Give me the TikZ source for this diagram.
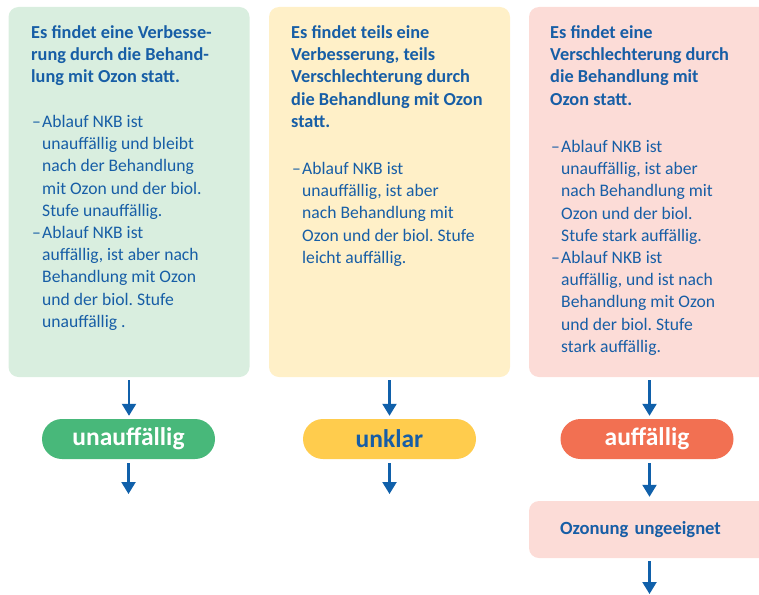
\documentclass[tikz,border=0pt]{standalone}
\usepackage{fontspec}
\setmainfont{Carlito}
\frenchspacing
\usetikzlibrary{arrows.meta}
\definecolor{textblau}{RGB}{23,94,166}
\definecolor{pfeilblau}{RGB}{16,96,170}
\definecolor{gruenhell}{RGB}{217,238,223}
\definecolor{gelbhell}{RGB}{255,240,200}
\definecolor{rothell}{RGB}{252,220,215}
\definecolor{gruen}{RGB}{72,184,122}
\definecolor{gelb}{RGB}{255,204,77}
\definecolor{rot}{RGB}{242,112,82}
\newcommand{\strich}{\makebox[10pt][l]{–}}
\newcommand{\einr}{\hspace*{10pt}}
\begin{document}
\begin{tikzpicture}[x=1pt,y=-1pt,
    kasten/.style={rounded corners=10pt,minimum width=241pt,minimum height=370pt,inner sep=0pt},
    kopf/.style={anchor=north west,inner sep=0pt,align=left,text=textblau,font=\fontsize{18.3}{22.2}\selectfont\bfseries},
    rumpf/.style={anchor=north west,inner sep=0pt,align=left,text=textblau,font=\fontsize{17.6}{22.2}\selectfont},
    pille/.style={rounded corners=20pt,minimum width=173pt,minimum height=40pt,inner sep=0pt,font=\fontsize{25.5}{28}\selectfont\bfseries},
    pfeil/.style={pfeilblau,line width=2.2pt,-{Triangle[width=14pt,length=12pt]},shorten <=3pt,shorten >=3pt}]
        \useasboundingbox (0,0) rectangle (759,594);
        \node[kasten,fill=gruenhell] (gut) at (129,192) {};
        \node[kasten,fill=gelbhell] (teils) at (389.5,192) {};
        \node[kasten,fill=rothell] (schlecht) at (649.5,192) {};
        \node[kopf] (gutkopf) at (31,25.5) {Es findet eine Verbesse-\\rung durch die Behand-\\lung mit Ozon statt.};
        \node[rumpf] (gutrumpf) at (32,115) {\strich Ablauf NKB ist\\\einr unauffällig und bleibt\\\einr nach der Behandlung\\\einr mit Ozon und der biol.\\\einr Stufe unauffällig.\\\strich Ablauf NKB ist\\\einr auffällig, ist aber nach\\\einr Behandlung mit Ozon\\\einr und der biol. Stufe\\\einr unauffällig .};
        \node[kopf] (teilskopf) at (291,25.5) {Es findet teils eine\\Verbesserung, teils\\Verschlechterung durch\\die Behandlung mit Ozon\\statt.};
        \node[rumpf] (teilsrumpf) at (292,162) {\strich Ablauf NKB ist\\\einr unauffällig, ist aber\\\einr nach Behandlung mit\\\einr Ozon und der biol. Stufe\\\einr leicht auffällig.};
        \node[kopf] (schlechtkopf) at (550,25.5) {Es findet eine\\Verschlechterung durch\\die Behandlung mit\\Ozon statt.};
        \node[rumpf] (schlechtrumpf) at (551,140) {\strich Ablauf NKB ist\\\einr unauffällig, ist aber\\\einr nach Behandlung mit\\\einr Ozon und der biol.\\\einr Stufe stark auffällig.\\\strich Ablauf NKB ist\\\einr auffällig, und ist nach\\\einr Behandlung mit Ozon\\\einr und der biol. Stufe\\\einr stark auffällig.};
        \node[pille,fill=gruen,text=white] (unauff) at (128.5,439) {unauffällig};
        \node[pille,fill=gelb,text=textblau] (unklar) at (389.5,439) {unklar};
        \node[pille,fill=rot,text=white] (auff) at (647,439) {auffällig};
        \node[rounded corners=10pt,fill=rothell,minimum width=241pt,minimum height=57pt,text width=179pt,inner xsep=31pt,inner ysep=0pt,align=left,text=textblau,font=\fontsize{18.6}{22.2}\selectfont\bfseries] (ozon) at (649.5,529.5) {Ozonung ungeeignet};
        \coordinate (gutende) at (128.5,497);
        \coordinate (teilsende) at (389.5,497);
        \coordinate (ozonende) at (649.5,597);
        \draw[pfeil] (gut.south) -- (gut.south |- unauff.north);
        \draw[pfeil] (teils.south) -- (unklar.north);
        \draw[pfeil] (schlecht.south) -- (schlecht.south |- auff.north);
        \draw[pfeil,shorten <=4pt] (unauff.south) -- (gutende);
        \draw[pfeil,shorten <=4pt] (unklar.south) -- (teilsende);
        \draw[pfeil,shorten <=4pt,shorten >=4pt] (auff.south -| ozon.north) -- (ozon.north);
        \draw[pfeil] (ozon.south) -- (ozonende);
    \end{tikzpicture}
\end{document}
